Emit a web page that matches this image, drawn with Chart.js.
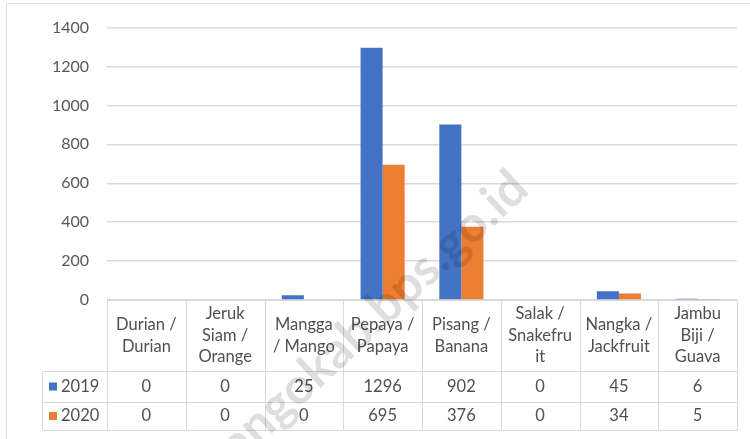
<!DOCTYPE html>
<html>
<head>
<meta charset="utf-8">
<script src="https://cdn.jsdelivr.net/npm/chart.js@4.4.1/dist/chart.umd.min.js"></script>
<style>
  html, body { margin: 0; padding: 0; background: #fff; }
  #wrap { width: 750px; height: 439px; position: relative; }
</style>
</head>
<body>
<div id="wrap"><canvas id="chart" width="750" height="439"></canvas></div>
<script>
// --- data ---
const categories = [
    ["Durian /", "Durian"],
    ["Jeruk", "Siam /", "Orange"],
    ["Mangga", "/ Mango"],
    ["Pepaya /", "Papaya"],
    ["Pisang /", "Banana"],
    ["Salak /", "Snakefru", "it"],
    ["Nangka /", "Jackfruit"],
    ["Jambu", "Biji /", "Guava"]
];
const seriesNames = ["2019", "2020"];
const values2019 = [0, 0, 25, 1296, 902, 0, 45, 6];
const values2020 = [0, 0, 0, 695, 376, 0, 34, 5];
const yTicks = [0, 200, 400, 600, 800, 1000, 1200, 1400];

const colors = ["#4472C4", "#ED7D31"];
const FONT = "Lato, 'Open Sans', sans-serif";
const gridColor = "#d9d9d9";
const textColor = "#505050";

// data table drawn under the plot, aligned with the x scale
const dataTablePlugin = {
    id: "dataTable",
    afterDraw(chart) {
        const ctx = chart.ctx;
        const area = chart.chartArea;
        const x = chart.scales.x;
        const n = categories.length;
        const colW = (area.right - area.left) / n;
        const headTop = area.bottom, headBottom = 371, row1 = 402, row2 = 430;
        const legendLeft = 42;

        ctx.save();
        ctx.lineWidth = 1;
        const line = (x1, y1, x2, y2) => {
            ctx.beginPath();
            ctx.moveTo(Math.round(x1) + 0.5, Math.round(y1) + 0.5);
            ctx.lineTo(Math.round(x2) + 0.5, Math.round(y2) + 0.5);
            ctx.stroke();
        };
        // outer frame
        ctx.strokeStyle = "#e0e0e0";
        line(6, 3, 750, 3);
        line(6, 3, 6, 439);
        ctx.strokeStyle = gridColor;
        // horizontal rules
        line(area.left, headTop, area.right, headTop);
        line(legendLeft, headBottom, area.right, headBottom);
        line(legendLeft, row1, area.right, row1);
        line(legendLeft, row2, area.right, row2);
        // vertical rules
        for (let i = 0; i <= n; i++) {
            const vx = area.left + i * colW;
            line(vx, headTop, vx, row2);
        }
        line(legendLeft, headBottom, legendLeft, row2);

        ctx.fillStyle = textColor;
        ctx.font = "16.5px " + FONT;
        ctx.textAlign = "center";
        ctx.textBaseline = "middle";
        const lh = 21.5;
        const headMid = (headTop + headBottom) / 2;
        categories.forEach((lines, i) => {
            const cx = x.getPixelForValue(i);
            const y0 = headMid - (lines.length - 1) * lh / 2;
            lines.forEach((t, j) => ctx.fillText(t, cx, y0 + j * lh));
        });
        const rows = [values2019, values2020];
        const mids = [(headBottom + row1) / 2, (row1 + row2) / 2];
        rows.forEach((vals, r) => {
            vals.forEach((v, i) => ctx.fillText(String(v), x.getPixelForValue(i), mids[r]));
            ctx.fillStyle = colors[r];
            ctx.fillRect(49, mids[r] - 4, 8, 8);
            ctx.fillStyle = textColor;
            ctx.textAlign = "left";
            ctx.fillText(seriesNames[r], 61, mids[r]);
            ctx.textAlign = "center";
        });

        // watermark
        ctx.translate(520, 180);
        ctx.rotate(-43 * Math.PI / 180);
        ctx.font = "bold 50px " + FONT;
        ctx.fillStyle = "rgba(0,0,0,0.13)";
        ctx.textAlign = "right";
        ctx.textBaseline = "middle";
        ctx.fillText("bonebolangokab.bps.go.id", 0, 0);
        ctx.restore();
    }
};

new Chart(document.getElementById("chart"), {
    type: "bar",
    data: {
        labels: categories,
        datasets: [
            { label: seriesNames[0], data: values2019, backgroundColor: colors[0] },
            { label: seriesNames[1], data: values2020, backgroundColor: colors[1] }
        ]
    },
    options: {
        responsive: false,
        animation: false,
        devicePixelRatio: 1,
        layout: { padding: { top: 21, right: 13, bottom: 139, left: 0 } },
        datasets: { bar: { categoryPercentage: 0.56, barPercentage: 1.0 } },
        plugins: { legend: { display: false }, tooltip: { enabled: false } },
        scales: {
            x: { display: false },
            y: {
                min: 0,
                max: 1400,
                afterFit(axis) { axis.width = 107; },
                afterBuildTicks(axis) { axis.ticks = yTicks.map(v => ({ value: v })); },
                border: { display: false },
                grid: { color: gridColor, drawTicks: false, lineWidth: 1.5 },
                ticks: {
                    color: "#595959",
                    padding: 18,
                    font: { family: FONT, size: 16 },
                    callback: v => String(v)
                }
            }
        }
    },
    plugins: [dataTablePlugin]
});
</script>
</body>
</html>
